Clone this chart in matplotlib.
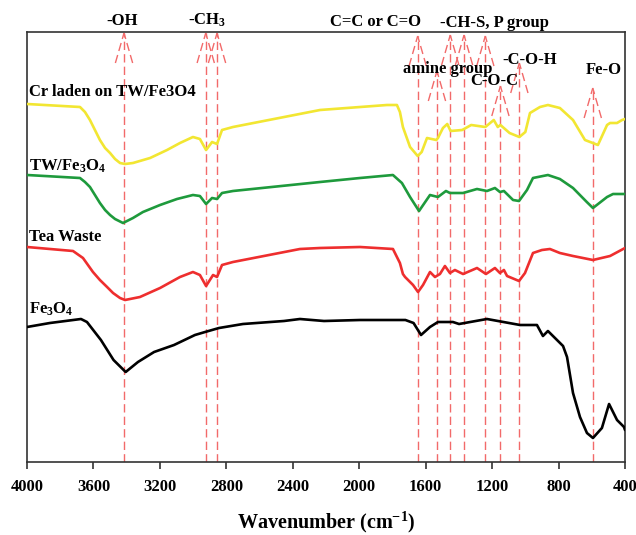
import matplotlib
matplotlib.use("Agg")
import matplotlib.pyplot as plt

# ---------------- data ----------------
# wavenumber (cm-1) and transmittance in arbitrary units (offset stacked)
cr_w = [4000, 3681, 3651, 3621, 3591, 3561, 3530, 3500, 3470, 3440, 3410, 3362, 3259, 3157,
        3079, 3001, 2959, 2922, 2886, 2856, 2826, 2760, 2236, 1833, 1773, 1755, 1737, 1694,
        1648, 1624, 1592, 1536, 1526, 1496, 1470, 1450, 1380, 1326, 1241, 1190, 1166, 1150,
        1095, 1036, 1000, 972, 912, 864, 792, 713, 641, 594, 563, 508, 490, 448, 418, 400]
cr_t = [358, 355, 350, 342, 332, 322, 314, 309, 303, 299, 298, 299, 304, 312,
        319, 325, 323, 312, 320, 318, 332, 335, 352, 357, 357, 350, 335, 315,
        306, 310, 324, 322, 324, 334, 338, 331, 332, 337, 335, 342, 335, 337,
        329, 325, 330, 349, 355, 357, 354, 342, 322, 319, 317, 337, 339, 339, 342, 343]

tw_w = [4000, 3681, 3651, 3621, 3591, 3561, 3530, 3500, 3470, 3422, 3362, 3302, 3199, 3097,
        3001, 2959, 2922, 2886, 2856, 2826, 2760, 2236, 1995, 1797, 1743, 1694, 1640, 1574,
        1526, 1478, 1454, 1375, 1291, 1231, 1183, 1153, 1129, 1074, 1038, 990, 954, 864,
        792, 713, 630, 593, 508, 472, 400]
tw_t = [287, 284, 280, 275, 267, 259, 252, 247, 243, 239, 244, 250, 257, 263,
        267, 266, 258, 264, 263, 269, 271, 280, 284, 287, 279, 265, 251, 267,
        265, 271, 269, 269, 273, 271, 274, 270, 271, 262, 261, 272, 284, 287,
        283, 274, 260, 254, 265, 268, 268]

tea_w = [4000, 3723, 3663, 3603, 3561, 3518, 3482, 3440, 3410, 3320, 3199, 3079, 3001, 2959,
         2922, 2880, 2856, 2826, 2760, 2357, 2236, 1995, 1797, 1755, 1737, 1724, 1676,
         1646, 1616, 1574, 1544, 1514, 1484, 1454, 1424, 1375, 1291, 1237, 1183, 1153,
         1129, 1110, 1038, 1002, 954, 900, 852, 792, 713, 593, 490, 400]
tea_t = [215, 211, 204, 190, 182, 175, 169, 164, 162, 165, 174, 185, 190, 187,
         176, 187, 185, 197, 200, 213, 214, 215, 213, 199, 188, 185, 177,
         170, 177, 190, 185, 188, 196, 189, 192, 188, 194, 188, 194, 189,
         192, 186, 181, 189, 209, 212, 213, 209, 206, 202, 206, 214]

fe_w = [4000, 3862, 3675, 3639, 3555, 3517, 3479, 3406, 3332, 3235, 3115, 2989, 2928, 2844,
        2700, 2453, 2357, 2212, 1995, 1722, 1673, 1628, 1574, 1526, 1436, 1399, 1231,
        1032, 930, 894, 864, 773, 749, 713, 671, 629, 593, 539, 496, 448, 406, 400]
fe_t = [135, 139, 143, 140, 122, 112, 102, 90, 100, 110, 117, 127, 130, 134,
        138, 141, 143, 141, 142, 142, 139, 127, 135, 140, 140, 138, 143,
        137, 137, 126, 131, 116, 105, 69, 45, 29, 24, 34, 58, 42, 35, 32]

series_names = ["Cr laden on TW/Fe3O4", "TW/Fe$_3$O$_4$", "Tea Waste", "Fe$_3$O$_4$"]
series_colors = ["#f2e632", "#1e9a3c", "#ee2e2e", "#000000"]

# band positions (cm-1) and arrow tip heights (a.u.)
band_w = [3416, 2924, 2856, 1648, 1532, 1452, 1369, 1241, 1150, 1036, 594]
band_tip = [429, 429, 429, 426, 391, 427, 427, 426, 376, 399, 374]

group_labels = ["-OH", "-CH$_3$", "C=C or C=O", "-CH-S, P group", "amine group",
                "C-O-C", "-C-O-H", "Fe-O"]
group_x = [3425, 2916, 1900, 1187, 1470, 1190, 972, 526]
group_y = [437, 437, 436, 435, 389, 377, 398, 388]

label_y = [366, 291, 221, 148]

xticks = [4000, 3600, 3200, 2800, 2400, 2000, 1600, 1200, 800, 400]

# ---------------- style ----------------
plt.rcParams["font.family"] = ["Liberation Serif", "DejaVu Serif"]
plt.rcParams["font.weight"] = "bold"
plt.rcParams["mathtext.fontset"] = "custom"
plt.rcParams["mathtext.rm"] = "Liberation Serif:bold"
plt.rcParams["mathtext.it"] = "Liberation Serif:bold:italic"
plt.rcParams["mathtext.bf"] = "Liberation Serif:bold"

fig = plt.figure(figsize=(6.36, 5.35), dpi=100)
ax = fig.add_axes([27 / 636, 1 - 462 / 535, 598 / 636, 430 / 535])

dash_col = "#f26a6a"
head_dx = 52
head_dy = 30
for w, tip in zip(band_w, band_tip):
    ax.plot([w, w], [0, tip], color=dash_col, lw=1.0, dashes=(6, 3), zorder=1)
    ax.plot([w - head_dx, w], [tip - head_dy, tip], color=dash_col, lw=1.0,
            dashes=(6, 3), zorder=1)
    ax.plot([w + head_dx, w], [tip - head_dy, tip], color=dash_col, lw=1.0,
            dashes=(6, 3), zorder=1)

for xs, ys, c in zip([cr_w, tw_w, tea_w, fe_w], [cr_t, tw_t, tea_t, fe_t], series_colors):
    ax.plot(xs, ys, color=c, lw=1.9, solid_joinstyle="round", solid_capstyle="round",
            zorder=3)

for name, y in zip(series_names, label_y):
    ax.text(3990, y, name, ha="left", va="baseline", fontsize=12, fontweight="bold")

for txt, x, y in zip(group_labels, group_x, group_y):
    ax.text(x, y, txt, ha="center", va="baseline", fontsize=12, fontweight="bold",
            clip_on=False, zorder=4)

ax.set_xlim(4000, 400)
ax.set_ylim(0, 430)
ax.set_xticks(xticks)
ax.set_xticklabels([str(t) for t in xticks])
ax.set_yticks([])
ax.tick_params(axis="x", direction="out", length=5, width=1.2, pad=7,
               labelsize=12, colors="#333333", labelcolor="black")
for lab in ax.get_xticklabels():
    lab.set_fontweight("bold")
for s in ax.spines.values():
    s.set_linewidth(1.2)
    s.set_color("#333333")
ax.set_xlabel("Wavenumber (cm$^{-1}$)", fontsize=14.5, fontweight="bold", labelpad=11)

fig.savefig("out.png", dpi=100)
